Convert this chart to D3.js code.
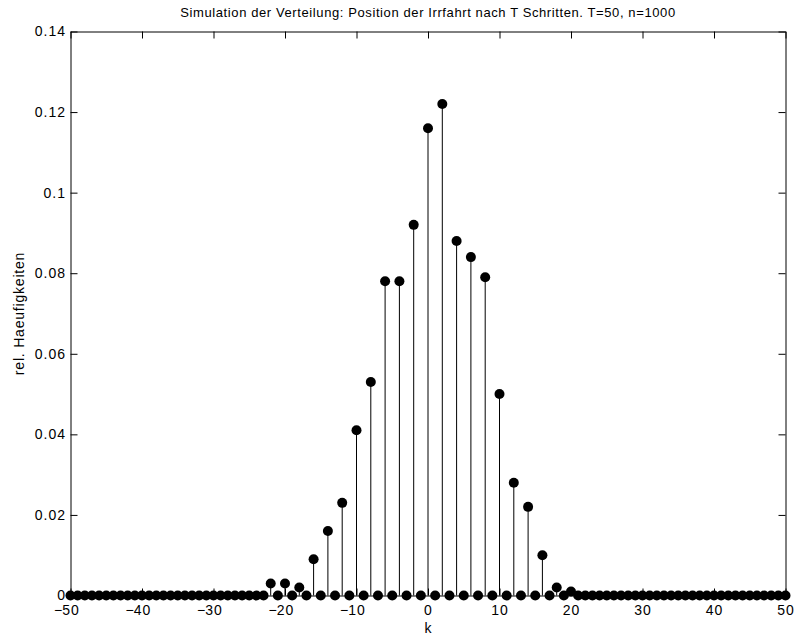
<!DOCTYPE html>
<html>
<head>
<meta charset="utf-8">
<script src="https://cdn.jsdelivr.net/npm/d3@7"></script>
<style>
	body { margin: 0; background: #fff; }
	svg { display: block; font-family: "Liberation Sans", Arial, Helvetica, sans-serif; }
</style>
</head>
<body>
<script>
// position k after T=50 steps
const kValues = [
	-50, -49, -48, -47, -46, -45, -44, -43, -42, -41, -40, -39, -38, -37, -36, -35, -34,
	-33, -32, -31, -30, -29, -28, -27, -26, -25, -24, -23, -22, -21, -20, -19, -18, -17,
	-16, -15, -14, -13, -12, -11, -10, -9, -8, -7, -6, -5, -4, -3, -2, -1, 0,
	1, 2, 3, 4, 5, 6, 7, 8, 9, 10, 11, 12, 13, 14, 15, 16, 17,
	18, 19, 20, 21, 22, 23, 24, 25, 26, 27, 28, 29, 30, 31, 32, 33, 34,
	35, 36, 37, 38, 39, 40, 41, 42, 43, 44, 45, 46, 47, 48, 49, 50,
];
// relative frequencies (n=1000), same order as kValues
const relFreq = [
	0, 0, 0, 0, 0, 0, 0, 0, 0, 0, 0, 0, 0, 0, 0, 0, 0,
	0, 0, 0, 0, 0, 0, 0, 0, 0, 0, 0, 0.003, 0, 0.003, 0, 0.002, 0,
	0.009, 0, 0.016, 0, 0.023, 0, 0.041, 0, 0.053, 0, 0.078, 0, 0.078, 0, 0.092, 0, 0.116,
	0, 0.122, 0, 0.088, 0, 0.084, 0, 0.079, 0, 0.05, 0, 0.028, 0, 0.022, 0, 0.01, 0,
	0.002, 0, 0.001, 0, 0, 0, 0, 0, 0, 0, 0, 0, 0, 0, 0, 0, 0,
	0, 0, 0, 0, 0, 0, 0, 0, 0, 0, 0, 0, 0, 0, 0, 0,
];
const xTicks = [-50, -40, -30, -20, -10, 0, 10, 20, 30, 40, 50];
const yTicks = [0, 0.02, 0.04, 0.06, 0.08, 0.1, 0.12, 0.14];
const yTickLabels = ["0", "0.02", "0.04", "0.06", "0.08", "0.1", "0.12", "0.14"];

const titleText = "Simulation der Verteilung: Position der Irrfahrt nach T Schritten. T=50, n=1000";

const width = 795;
const height = 638;
const margin = { top: 31.5, right: 9.5, bottom: 42.5, left: 70.5 };
const innerW = width - margin.left - margin.right;
const innerH = height - margin.top - margin.bottom;
const fontFamily = "\"Liberation Sans\", Arial, Helvetica, sans-serif";

const svg = d3.select("body")
	.append("svg")
	.attr("width", width)
	.attr("height", height);

const x = d3.scaleLinear().domain([-50, 50]).range([0, innerW]);
const y = d3.scaleLinear().domain([0, 0.14]).range([innerH, 0]);

const g = svg.append("g")
	.attr("transform", `translate(${margin.left},${margin.top})`);

const tickLen = 7;

// axes (ticks pointing inward, box style)
const styleAxis = (sel) => {
	sel.select(".domain").attr("stroke", "#000").attr("stroke-width", 1);
	sel.selectAll(".tick line").attr("stroke", "#000").attr("stroke-width", 1);
	sel.selectAll(".tick text")
		.attr("fill", "#000")
		.style("font-size", "14px")
		.style("letter-spacing", "1px")
		.style("font-family", fontFamily);
};

const xAxisG = g.append("g")
	.attr("transform", `translate(0,${innerH})`)
	.call(d3.axisBottom(x).tickValues(xTicks).tickSizeInner(-tickLen).tickSizeOuter(0)
		.tickPadding(9.5).tickFormat((d) => String(Math.abs(d))))
	.call(styleAxis);

// matlab keeps the digits centred on the tick, the minus hangs to the left
xAxisG.selectAll(".tick").each(function (d) {
	if (d >= 0) return;
	const t = d3.select(this).select("text");
	const w = t.node().getComputedTextLength();
	d3.select(this).append("text")
		.attr("fill", "#000")
		.attr("y", t.attr("y"))
		.attr("dy", t.attr("dy"))
		.attr("x", -w / 2)
		.attr("text-anchor", "end")
		.style("font-size", "14px")
		.style("font-family", fontFamily)
		.text("\u2212");
});

g.append("g")
	.call(d3.axisTop(x).tickValues(xTicks).tickSizeInner(-tickLen).tickSizeOuter(0)
		.tickFormat(""))
	.call(styleAxis);

g.append("g")
	.call(d3.axisLeft(y).tickValues(yTicks).tickSizeInner(-tickLen).tickSizeOuter(0)
		.tickPadding(4.5).tickFormat((d, i) => yTickLabels[i]))
	.call(styleAxis);

g.append("g")
	.attr("transform", `translate(${innerW},0)`)
	.call(d3.axisRight(y).tickValues(yTicks).tickSizeInner(-tickLen).tickSizeOuter(0)
		.tickFormat(""))
	.call(styleAxis);

// stems
const points = kValues.map((k, i) => ({ k: k, v: relFreq[i] }));

g.append("g")
	.selectAll("line")
	.data(points.filter((d) => d.v > 0))
	.enter()
	.append("line")
	.attr("x1", (d) => x(d.k))
	.attr("x2", (d) => x(d.k))
	.attr("y1", y(0))
	.attr("y2", (d) => y(d.v))
	.attr("stroke", "#000")
	.attr("stroke-width", 1);

// markers
g.append("g")
	.selectAll("circle")
	.data(points)
	.enter()
	.append("circle")
	.attr("cx", (d) => x(d.k))
	.attr("cy", (d) => y(d.v))
	.attr("r", 5)
	.attr("fill", "#000");

// labels
svg.append("text")
	.attr("x", margin.left + innerW / 2)
	.attr("y", 17)
	.attr("text-anchor", "middle")
	.style("font-size", "13px")
	.style("letter-spacing", "0.6px")
	.text(titleText);

svg.append("text")
	.attr("x", margin.left + innerW / 2)
	.attr("y", 633)
	.attr("text-anchor", "middle")
	.style("font-size", "14px")
	.text("k");

svg.append("text")
	.attr("transform", `translate(24,${margin.top + innerH / 2}) rotate(-90)`)
	.attr("text-anchor", "middle")
	.style("font-size", "14px")
	.style("letter-spacing", "0.8px")
	.text("rel. Haeufigkeiten");
</script>
</body>
</html>
